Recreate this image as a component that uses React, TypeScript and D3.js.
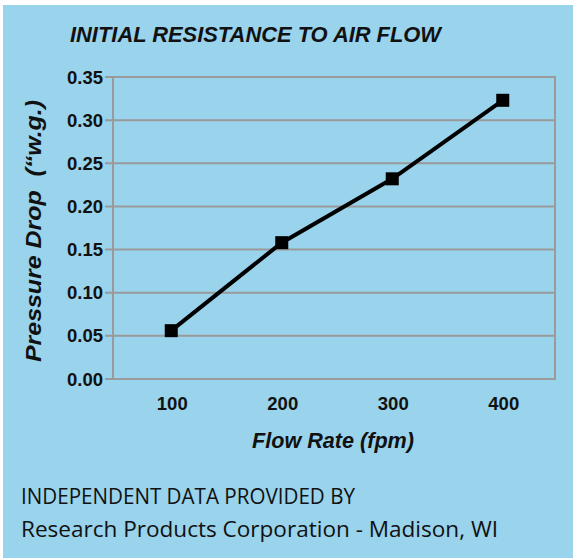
import { useEffect, useRef } from "react";
import * as d3 from "d3";

const flowRates = ["100", "200", "300", "400"];
const pressureDrop = [0.056, 0.158, 0.232, 0.323];
const yTicks = [0, 0.05, 0.1, 0.15, 0.2, 0.25, 0.3, 0.35];
const footerLines = ["INDEPENDENT DATA PROVIDED BY", "Research Products Corporation - Madison, WI"];
const footerWidths = [334, 477];

const W = 573;
const H = 558;
const margin = { top: 77, right: 18, bottom: 179, left: 113 };
const BG = "#99d3ec";
const GRID = "#9a9a9a";
const HEAD_FONT = "'Liberation Sans', Arial, sans-serif";

export default function App() {
  const svgRef = useRef<SVGSVGElement>(null);

  useEffect(() => {
    if (!svgRef.current) return;
    const svg = d3.select(svgRef.current);
    svg.selectAll("*").remove();

    svg.append("rect").attr("x", 3).attr("y", 5).attr("width", W - 3).attr("height", H - 5).attr("fill", BG);

    const x = d3.scaleBand<string>().domain(flowRates).range([margin.left, W - margin.right]);
    const y = d3.scaleLinear().domain([0, 0.35]).range([H - margin.bottom, margin.top]);

    // grid lines, with the little tick stubs on the left
    const grid = svg.append("g");
    grid.selectAll("line.grid")
      .data(yTicks)
      .join("line")
      .attr("class", "grid")
      .attr("x1", margin.left - 8)
      .attr("x2", W - margin.right)
      .attr("y1", (d) => y(d))
      .attr("y2", (d) => y(d))
      .attr("stroke", GRID)
      .attr("stroke-width", 2);

    [margin.left, W - margin.right].forEach((xx) => {
      grid.append("line")
        .attr("x1", xx).attr("x2", xx)
        .attr("y1", y(0.35) - 1).attr("y2", y(0) + 1)
        .attr("stroke", GRID).attr("stroke-width", 2);
    });

    svg.append("g")
      .selectAll("text")
      .data(yTicks)
      .join("text")
      .attr("x", 103)
      .attr("y", (d) => y(d) + 6.5)
      .attr("text-anchor", "end")
      .attr("font-family", HEAD_FONT)
      .attr("font-weight", "bold")
      .attr("font-size", 18.5)
      .attr("fill", "#111")
      .text((d) => d.toFixed(2));

    svg.append("g")
      .selectAll("text")
      .data(flowRates)
      .join("text")
      .attr("x", (d) => x(d)! + x.bandwidth() / 2 + 4)
      .attr("y", 410)
      .attr("text-anchor", "middle")
      .attr("font-family", HEAD_FONT)
      .attr("font-weight", "bold")
      .attr("font-size", 18.5)
      .attr("fill", "#111")
      .text((d) => d);

    // series
    const pts = flowRates.map((f, i) => [x(f)! + x.bandwidth() / 2 + 3, y(pressureDrop[i])] as [number, number]);
    svg.append("path")
      .attr("d", d3.line()(pts))
      .attr("fill", "none")
      .attr("stroke", "#000")
      .attr("stroke-width", 4);
    svg.append("g")
      .selectAll("rect")
      .data(pts)
      .join("rect")
      .attr("x", (d) => d[0] - 6.5)
      .attr("y", (d) => d[1] - 6.5)
      .attr("width", 13)
      .attr("height", 13)
      .attr("fill", "#000");

    // titles
    svg.append("text")
      .attr("x", 70).attr("y", 42)
      .attr("font-family", HEAD_FONT)
      .attr("font-weight", "bold").attr("font-style", "italic")
      .attr("font-size", 22)
      .attr("textLength", 371).attr("lengthAdjust", "spacingAndGlyphs")
      .attr("fill", "#111")
      .text("INITIAL RESISTANCE TO AIR FLOW");

    svg.append("text")
      .attr("x", 252).attr("y", 448)
      .attr("font-family", HEAD_FONT)
      .attr("font-weight", "bold").attr("font-style", "italic")
      .attr("font-size", 22)
      .attr("textLength", 162).attr("lengthAdjust", "spacingAndGlyphs")
      .attr("fill", "#111")
      .text("Flow Rate (fpm)");

    svg.append("text")
      .attr("transform", `translate(41,362) rotate(-90)`)
      .attr("font-family", HEAD_FONT)
      .attr("font-weight", "bold").attr("font-style", "italic")
      .attr("font-size", 22)
      .attr("textLength", 262).attr("lengthAdjust", "spacingAndGlyphs")
      .attr("fill", "#111")
      .attr("xml:space", "preserve")
      .text("Pressure Drop  (\u201cw.g.)");

    // footer
    svg.append("g")
      .selectAll("text")
      .data(footerLines)
      .join("text")
      .attr("x", 21)
      .attr("y", (_, i) => 504 + i * 33)
      .attr("font-family", "'Open Sans', sans-serif")
      .attr("font-size", 21.5)
      .attr("textLength", (_, i) => footerWidths[i])
      .attr("lengthAdjust", "spacingAndGlyphs")
      .attr("fill", "#111")
      .text((d) => d);
  }, []);

  return (
    <svg
      ref={svgRef}
      width={W}
      height={H}
      style={{ position: "absolute", left: 0, top: 0, background: "#fff" }}
    />
  );
}
